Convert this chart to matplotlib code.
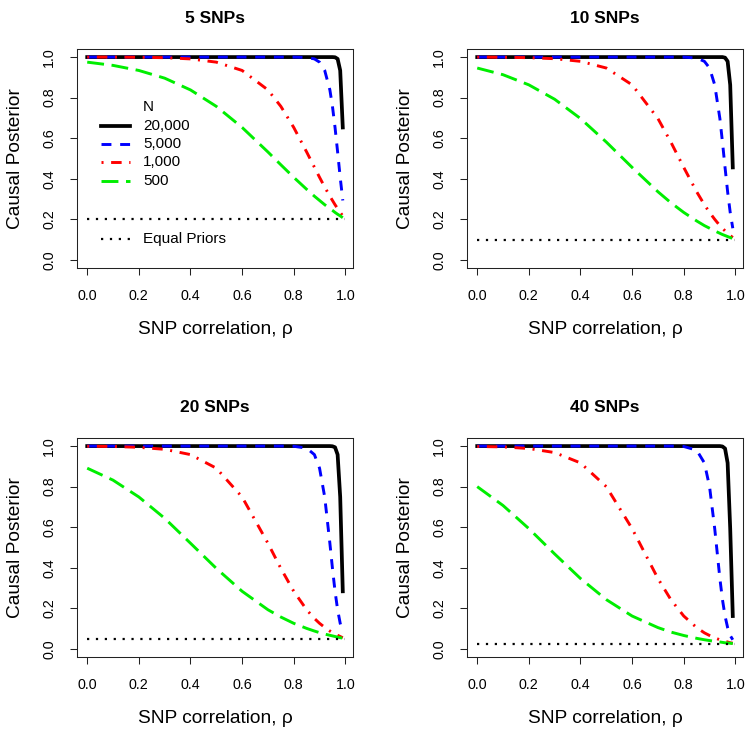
import matplotlib
matplotlib.use("Agg")
import matplotlib.pyplot as plt

plt.rcParams['font.family'] = ['Liberation Sans', 'DejaVu Sans']

rho = [0.0, 0.1, 0.2, 0.3, 0.4, 0.5, 0.6, 0.7, 0.75, 0.8, 0.85, 0.88,
       0.9, 0.92, 0.94, 0.95, 0.96, 0.97, 0.98, 0.99]

n_labels = ["20,000", "5,000", "1,000", "500"]
titles = ["5 SNPs", "10 SNPs", "20 SNPs", "40 SNPs"]
equal_priors = [0.2, 0.1, 0.05, 0.025]

post_5 = [
    [1, 1, 1, 1, 1, 1, 1, 1, 1, 1, 1, 1, 1, 1, 1, 1, .999, .991, .934, .653],
    [1, 1, 1, 1, 1, 1, 1, 1, 1, 1, .998, .991, .975, .934, .838, .757, .653, .532, .407, .293],
    [1, 1, .999, .997, .991, .975, .934, .838, .757, .653, .532, .457, .407, .359, .314, .293, .272, .253, .234, .217],
    [.975, .959, .934, .896, .838, .757, .653, .532, .469, .407, .348, .314, .293, .272, .253, .244, .234, .225, .217, .208],
]
post_10 = [
    [1, 1, 1, 1, 1, 1, 1, 1, 1, 1, 1, 1, 1, 1, 1, 1, .997, .979, .863, .456],
    [1, 1, 1, 1, 1, 1, 1, 1, 1, 1, .995, .979, .946, .863, .697, .581, .456, .336, .234, .156],
    [1, .999, .997, .992, .979, .946, .863, .697, .581, .456, .336, .272, .234, .200, .169, .156, .143, .131, .120, .110],
    [.946, .913, .863, .792, .697, .581, .456, .336, .282, .234, .192, .169, .156, .143, .131, .125, .120, .115, .110, .105],
]
post_20 = [
    [1, 1, 1, 1, 1, 1, 1, 1, 1, 1, 1, 1, 1, 1, 1, .999, .994, .958, .749, .284],
    [1, 1, 1, 1, 1, 1, 1, 1, 1, .999, .990, .958, .891, .749, .521, .397, .284, .193, .126, .080],
    [.999, .998, .994, .984, .958, .891, .749, .521, .397, .284, .193, .150, .126, .106, .088, .080, .073, .067, .061, .055],
    [.891, .832, .749, .644, .521, .397, .284, .193, .157, .126, .101, .088, .080, .073, .067, .064, .061, .058, .055, .053],
]
post_40 = [
    [1, 1, 1, 1, 1, 1, 1, 1, 1, 1, 1, 1, 1, 1, 1, .998, .988, .917, .593, .162],
    [1, 1, 1, 1, 1, 1, 1, 1, 1, .998, .980, .917, .800, .593, .347, .243, .162, .105, .066, .045],
    [.998, .996, .988, .968, .917, .800, .593, .347, .243, .162, .105, .079, .066, .054, .045, .041, .037, .034, .030, .028],
    [.800, .707, .593, .468, .347, .243, .162, .105, .083, .066, .052, .045, .041, .037, .034, .032, .030, .029, .028, .026],
]
panels = [post_5, post_10, post_20, post_40]

colors = ["black", "#0000ff", "#ff0000", "#00ee00"]
widths = [2.7, 2.1, 2.1, 2.1]
styles = ["-", (0, (3.4, 3.0)), (0, (0.7, 2.6, 3.6, 2.6)), (0, (5.8, 2.6))]

fig = plt.figure(figsize=(7.49, 7.33), dpi=100)
boxes = [[0.1028, 0.6344, 0.3685, 0.2988], [0.6235, 0.6344, 0.3685, 0.2988],
         [0.1028, 0.1037, 0.3685, 0.2988], [0.6235, 0.1037, 0.3685, 0.2988]]


def draw_panel(ax, series, prior, title):
    for vals, c, lw, ls in zip(series, colors, widths, styles):
        ax.plot(rho, vals, color=c, lw=lw, linestyle=ls, dash_capstyle='butt')
    ax.plot([0, 1], [prior, prior], color="black", lw=1.6,
            linestyle=(0, (1, 3)), dash_capstyle='butt')
    ax.set_xlim(-0.0396, 1.0296)
    ax.set_ylim(-0.04, 1.04)
    ticks = [0.0, 0.2, 0.4, 0.6, 0.8, 1.0]
    ax.set_xticks(ticks)
    ax.set_yticks(ticks)
    ax.set_xticklabels(["%.1f" % t for t in ticks])
    ax.set_yticklabels(["%.1f" % t for t in ticks], rotation=90, va='center')
    ax.tick_params(direction='out', length=5, width=0.75, labelsize=10.3,
                   pad=10, color="#222222")
    for sp in ax.spines.values():
        sp.set_linewidth(0.75)
        sp.set_color("#222222")
    ax.set_title(title, fontsize=12.5, fontweight='bold', pad=19)
    ax.set_xlabel(u"SNP correlation, \u03c1", fontsize=13.8, labelpad=13)
    ax.set_ylabel("Causal Posterior", fontsize=13.8, labelpad=13)


for i in range(4):
    ax = fig.add_axes(boxes[i])
    draw_panel(ax, panels[i], equal_priors[i], titles[i])
    if i == 0:
        # legend drawn by hand to keep the R layout
        tr = ax.transAxes
        ax.text(0.239, 0.735, "N", transform=tr, fontsize=11, va='center')
        rows = [0.648, 0.566, 0.484, 0.397]
        for y, lab, c, lw, ls in zip(rows, n_labels, colors, widths, styles):
            ax.plot([0.086, 0.192], [y, y], transform=tr, color=c, lw=lw,
                    linestyle=ls, dash_capstyle='butt')
            ax.text(0.239, y, lab, transform=tr, fontsize=11, va='center')
        ax.plot([0.086, 0.192], [0.132, 0.132], transform=tr, color="black",
                lw=1.6, linestyle=(0, (1, 3)), dash_capstyle='butt')
        ax.text(0.239, 0.132, "Equal Priors", transform=tr, fontsize=11,
                va='center')

fig.savefig("out.png", dpi=100)
